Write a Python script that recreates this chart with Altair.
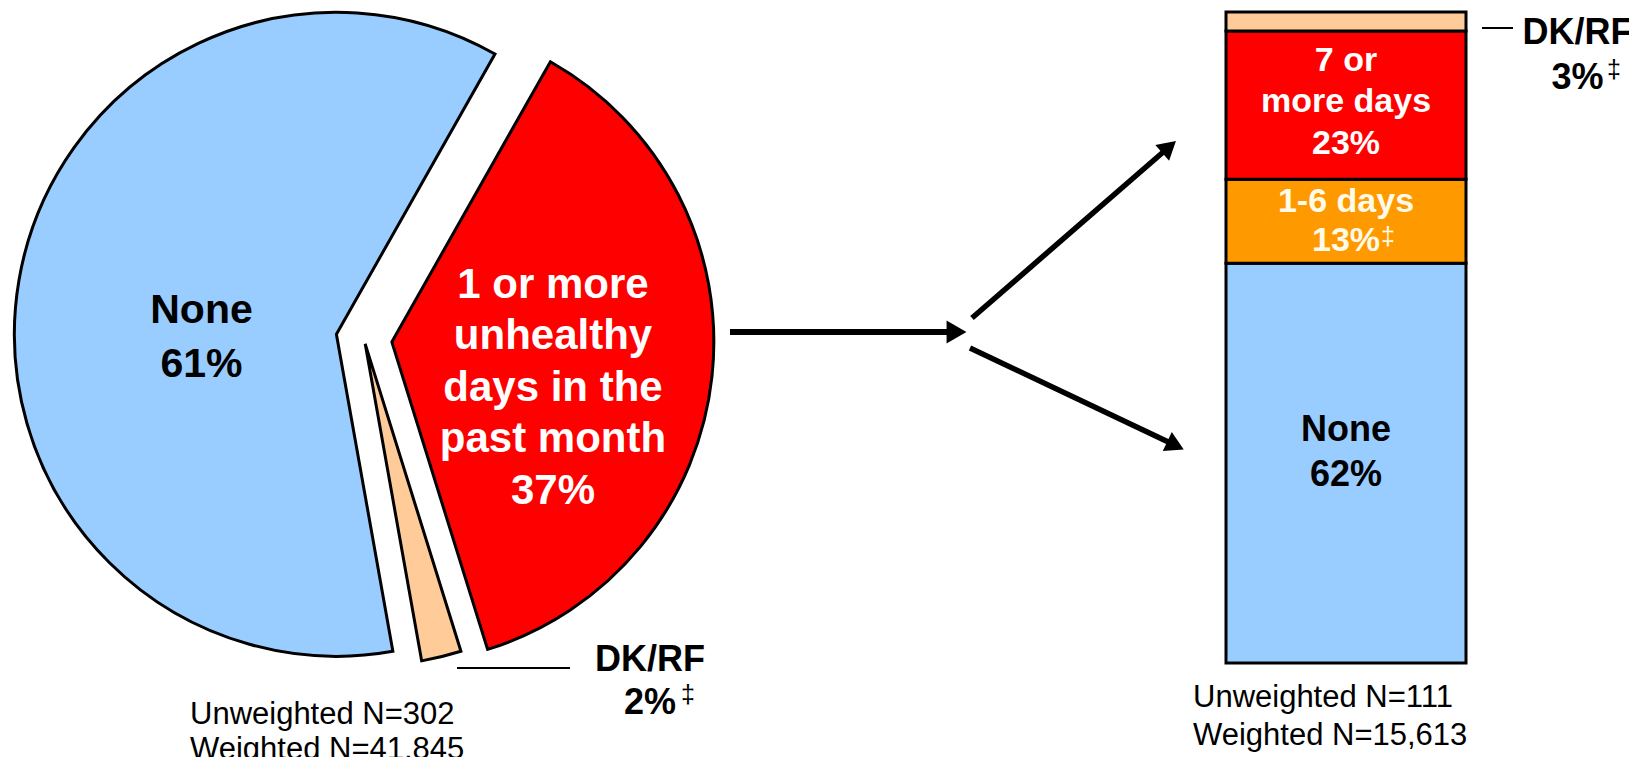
import math
import altair as alt
import pandas as pd

# ------------------------------------------------------------------ data
pie_categories = ["1 or more unhealthy days in the past month", "DK/RF", "None"]
pie_values = [37, 2, 61]
pie_colors = ["#FF0000", "#FFCC99", "#99CCFF"]

bar_categories = ["None", "1-6 days", "7 or more days", "DK/RF"]
bar_values = [61.4, 12.9, 22.8, 2.9]
bar_colors = ["#99CCFF", "#FF9900", "#FF0000", "#FFCC99"]

pie_label_none = ["None", "61%"]
pie_label_some = ["1 or more", "unhealthy", "days in the", "past month", "37%"]
pie_label_dk = ["DK/RF", "2%"]
bar_label_none = ["None", "62%"]
bar_label_7 = ["7 or", "more days", "23%"]
bar_label_16 = ["1-6 days", "13%"]
bar_label_dk = ["DK/RF", "3%"]
footnote_mark = "\u2021"
pie_n = ["Unweighted N=302", "Weighted N=41,845"]
bar_n = ["Unweighted N=111", "Weighted N=15,613"]

# ------------------------------------------------------------------ layout (page px -> chart px)
M = 8
W, H = 1637 - 2 * M, 765 - 2 * M
FONT = "Arial, Liberation Sans, sans-serif"


def P(v):
    return v - M


PIE_CX, PIE_CY, PIE_R = P(364), P(339), 322
START = math.radians(29.5)
BAR_X0, BAR_X1 = P(1226), P(1466)
BAR_TOP, BAR_BOT = P(12), P(663)

pie_df = pd.DataFrame({"cat": pie_categories, "value": pie_values,
                       "color": pie_colors, "order": list(range(len(pie_values)))})
bar_df = pd.DataFrame({"cat": bar_categories, "value": bar_values,
                       "color": bar_colors, "order": list(range(len(bar_values))),
                       "grp": ["bar"] * len(bar_values)})

total_pie = sum(pie_values)

pie = (
    alt.Chart(pie_df)
    .transform_window(t1="sum(value)", sort=[alt.SortField("order")], frame=[None, 0])
    .transform_calculate(
        t0="datum.t1 - datum.value",
        mid=f"{START} + (datum.t1 - datum.value / 2) / {total_pie} * 2 * PI",
        ex="datum.cat == 'DK/RF' ? 5 : 28",
    )
    .transform_calculate(
        px=f"{PIE_CX} + datum.ex * sin(datum.mid)",
        py=f"{PIE_CY} - datum.ex * cos(datum.mid)",
    )
    .mark_arc(outerRadius=PIE_R, stroke="black", strokeWidth=3, strokeJoin="miter")
    .encode(
        theta=alt.Theta("t0:Q", scale=alt.Scale(domain=[0, total_pie],
                                                range=[START, START + 2 * math.pi]), stack=False),
        theta2="t1:Q",
        x=alt.X("px:Q", scale=None, axis=None, stack=False),
        y=alt.Y("py:Q", scale=None, axis=None, stack=False),
        color=alt.Color("color:N", scale=None, legend=None),
    )
)

xs = alt.Scale(domain=["bar"], range=[BAR_X0, BAR_X1], paddingInner=0, paddingOuter=0)
ys = alt.Scale(domain=[0, 100], range=[BAR_BOT, BAR_TOP], nice=False, zero=False)

bar_base = (
    alt.Chart(bar_df)
    .transform_window(y1="sum(value)", sort=[alt.SortField("order")], frame=[None, 0])
    .transform_calculate(y0="datum.y1 - datum.value", ymid="datum.y1 - datum.value / 2")
)

bar = bar_base.mark_bar(stroke="black", strokeWidth=3).encode(
    x=alt.X("grp:N", scale=xs, axis=None),
    y=alt.Y("y0:Q", scale=ys, axis=None),
    y2="y1:Q",
    color=alt.Color("color:N", scale=None, legend=None),
)


def bar_text(cat, lines, size, lh, color, dy=0):
    # the first line sits at the anchor; shift so that the block is centred
    shift = dy - (len(lines) - 1) * lh / 2
    return (
        bar_base.transform_filter(alt.datum.cat == cat)
        .mark_text(text=lines, font=FONT, fontSize=size, fontWeight="bold", color=color,
                   align="center", baseline="middle", lineHeight=lh, dy=shift)
        .encode(x=alt.X("grp:N", scale=xs, axis=None),
                y=alt.Y("ymid:Q", scale=ys, axis=None))
    )


def text(lines, x, y, size, lh=None, color="black", weight="bold", align="center"):
    kw = dict(text=lines, font=FONT, fontSize=size, fontWeight=weight, color=color,
              align=align, baseline="middle")
    if lh is not None:
        kw["lineHeight"] = lh
    n = len(lines) if isinstance(lines, list) else 1
    y_first = y - (n - 1) * (lh or 0) / 2
    return alt.Chart(pie_df).transform_filter("datum.order == 0").mark_text(**kw).encode(
        x=alt.value(P(x)), y=alt.value(P(y_first)))


def rule(x1, y1, x2, y2, w):
    return alt.Chart(pie_df).transform_filter("datum.order == 0").mark_rule(
        color="black", strokeWidth=w, strokeCap="butt").encode(
        x=alt.value(P(x1)), y=alt.value(P(y1)), x2=alt.value(P(x2)), y2=alt.value(P(y2)))


def arrow(x1, y1, x2, y2, w, head):
    dx, dy = x2 - x1, y2 - y1
    L = math.hypot(dx, dy)
    ux, uy = dx / L, dy / L
    r = head / 2
    ang = math.degrees(math.atan2(dy, dx)) % 360
    line = rule(x1, y1, x2 - ux * head * 0.85, y2 - uy * head * 0.85, w)
    tip = alt.Chart(pie_df).transform_filter("datum.order == 0").mark_point(
        shape="triangle-right", filled=True, color="black", opacity=1,
        size=head * head, angle=ang, strokeWidth=0).encode(
        x=alt.value(P(x2 - ux * r)), y=alt.value(P(y2 - uy * r)))
    return [line, tip]


layers = [pie, bar]
layers += [
    bar_text("7 or more days", bar_label_7, 34, 41.5, "white", dy=-3),
    bar_text("1-6 days", bar_label_16, 34, 39, "#FFFBEA", dy=0),
    bar_text("None", bar_label_none, 36, 45, "black", dy=-11),
    text(footnote_mark, 1388, 237, 25, color="#FFFBEA", weight="normal"),
    # pie labels
    text(pie_label_none, 201.5, 338, 41, lh=54),
    text(pie_label_some, 553, 387.5, 42, lh=51.5, color="white"),
    text(pie_label_dk, 650, 681.5, 36, lh=43),
    text(footnote_mark, 688, 695, 25, weight="normal"),
    rule(457, 668, 570, 668, 2),
    # bar DK/RF callout
    text(bar_label_dk, 1577.5, 55, 36, lh=45),
    text(footnote_mark, 1614, 70, 25, weight="normal"),
    rule(1482, 28, 1513, 28, 2),
    # sample sizes
    text(pie_n, 190, 732.5, 31, lh=35, weight="normal", align="left"),
    text(bar_n, 1193, 717, 31, lh=38, weight="normal", align="left"),
]
layers += arrow(730, 332, 968, 332, 6, 23)
layers += arrow(972, 318, 1177, 140, 5.5, 21)
layers += arrow(970, 348, 1185, 450, 5.5, 21)

chart = (
    alt.layer(*layers)
    .resolve_scale(x="independent", y="independent", color="independent", theta="independent")
    .properties(width=W, height=H, autosize="none", padding=0, background="white")
    .configure_view(stroke=None)
)

chart.save("out.html", embed_options={"renderer": "svg", "actions": False})
